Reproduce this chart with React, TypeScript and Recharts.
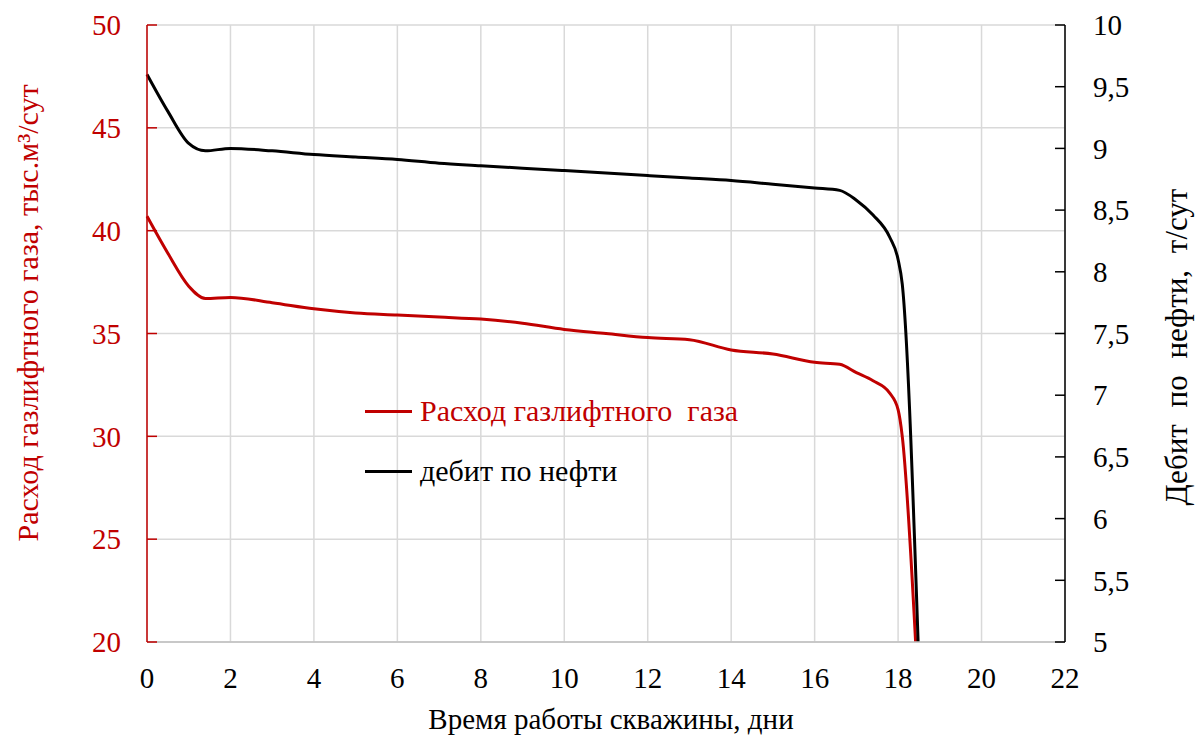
import React from 'react';
import { LineChart, Line, XAxis, YAxis, CartesianGrid } from 'recharts';

// Расход газлифтного газа (левая ось)
const gasDays = [0, 0.5, 1, 1.4, 2, 3, 4, 5, 6, 7, 8, 9, 10, 11, 12, 13, 14, 15, 16, 16.6, 17, 17.4, 17.8, 18, 18.1, 18.42];
const gasRate = [40.7, 38.9, 37.3, 36.7, 36.75, 36.5, 36.2, 36.0, 35.9, 35.8, 35.7, 35.5, 35.2, 35.0, 34.8, 34.7, 34.2, 34.0, 33.6, 33.5, 33.1, 32.7, 32.1, 31.3, 30.0, 20.0];

// Дебит по нефти (правая ось)
const oilDays = [0, 0.5, 1, 1.4, 2, 3, 4, 5, 6, 7, 8, 9, 10, 11, 12, 13, 14, 15, 16, 16.6, 17, 17.4, 17.8, 18, 18.1, 18.48];
const oilRate = [9.6, 9.3, 9.04, 8.98, 9.0, 8.98, 8.95, 8.93, 8.91, 8.88, 8.86, 8.84, 8.82, 8.8, 8.78, 8.76, 8.74, 8.71, 8.68, 8.66, 8.58, 8.46, 8.28, 8.1, 7.9, 5.0];

const xTicks = [0, 2, 4, 6, 8, 10, 12, 14, 16, 18, 20, 22];
const leftTicks = [20, 25, 30, 35, 40, 45, 50];
const rightTicks = [5, 5.5, 6, 6.5, 7, 7.5, 8, 8.5, 9, 9.5, 10];

const RED = '#C00000';
const FONT = '"Liberation Serif", "Times New Roman", serif';

const gasData = gasDays.map((d, i) => ({ day: d, gas: gasRate[i] }));
const oilData = oilDays.map((d, i) => ({ day: d, oil: oilRate[i] }));

const comma = (v: number) => String(v).replace('.', ',');

const LegendBox = () => (
  <div
    style={{
      position: 'absolute',
      left: 365,
      top: 391,
      fontFamily: FONT,
      fontSize: 30,
      whiteSpace: 'pre',
      lineHeight: '40px',
    }}
  >
    <div style={{ display: 'flex', alignItems: 'center', height: 40, color: RED }}>
      <span style={{ width: 47, height: 3, background: RED, marginRight: 8 }} />
      {'Расход газлифтного  газа'}
    </div>
    <div style={{ display: 'flex', alignItems: 'center', height: 40, marginTop: 20, color: '#000' }}>
      <span style={{ width: 47, height: 3, background: '#000', marginRight: 8 }} />
      дебит по нефти
    </div>
  </div>
);

export default function App() {
  return (
    <div style={{ position: 'absolute', left: 0, top: 0, width: 1196, height: 735, background: '#fff' }}>
      <LineChart width={1196} height={735} margin={{ top: 25, right: 0, left: 0, bottom: 0 }}>
        <CartesianGrid yAxisId="left" stroke="#d9d9d9" strokeWidth={1.5} />
        <XAxis
          dataKey="day"
          type="number"
          domain={[0, 22]}
          ticks={xTicks}
          allowDuplicatedCategory={false}
          height={93}
          tickLine={false}
          tickSize={0}
          tickMargin={25}
          axisLine={{ stroke: '#bfbfbf', strokeWidth: 1.5 }}
          tick={{ fill: '#000', fontSize: 29, fontFamily: FONT }}
          label={{
            content: () => (
              <text x={611} y={729} textAnchor="middle" fill="#000" fontSize={29} fontFamily={FONT}>
                Время работы скважины, дни
              </text>
            ),
          }}
        />
        <YAxis
          yAxisId="left"
          orientation="left"
          width={147}
          domain={[20, 50]}
          ticks={leftTicks}
          interval={0}
          tickSize={-10}
          tickMargin={36}
          axisLine={{ stroke: RED, strokeWidth: 1.5 }}
          tickLine={{ stroke: RED, strokeWidth: 1.5 }}
          tick={{ fill: RED, fontSize: 29, fontFamily: FONT }}
          label={{
            content: () => (
              <text
                x={38}
                y={313}
                transform="rotate(-90 38 313)"
                textAnchor="middle"
                fill={RED}
                fontSize={30}
                fontFamily={FONT}
              >
                Расход газлифтного газа, тыс.м³/сут
              </text>
            ),
          }}
        />
        <YAxis
          yAxisId="right"
          orientation="right"
          width={131}
          domain={[5, 10]}
          ticks={rightTicks}
          interval={0}
          tickSize={-10}
          tickMargin={38}
          tickFormatter={comma}
          axisLine={{ stroke: '#000', strokeWidth: 1.5 }}
          tickLine={{ stroke: '#000', strokeWidth: 1.5 }}
          tick={{ fill: '#000', fontSize: 29, fontFamily: FONT }}
          label={{
            content: () => (
              <text
                x={1187}
                y={347}
                transform="rotate(-90 1187 347)"
                textAnchor="middle"
                fill="#000"
                fontSize={31}
                fontFamily={FONT}
                style={{ wordSpacing: 9 }}
              >
                Дебит по нефти, т/сут
              </text>
            ),
          }}
        />
        <Line
          yAxisId="left"
          data={gasData}
          dataKey="gas"
          type="monotone"
          stroke={RED}
          strokeWidth={3}
          dot={false}
          isAnimationActive={false}
        />
        <Line
          yAxisId="right"
          data={oilData}
          dataKey="oil"
          type="monotone"
          stroke="#000"
          strokeWidth={3}
          dot={false}
          isAnimationActive={false}
        />
      </LineChart>
      <LegendBox />
    </div>
  );
}
